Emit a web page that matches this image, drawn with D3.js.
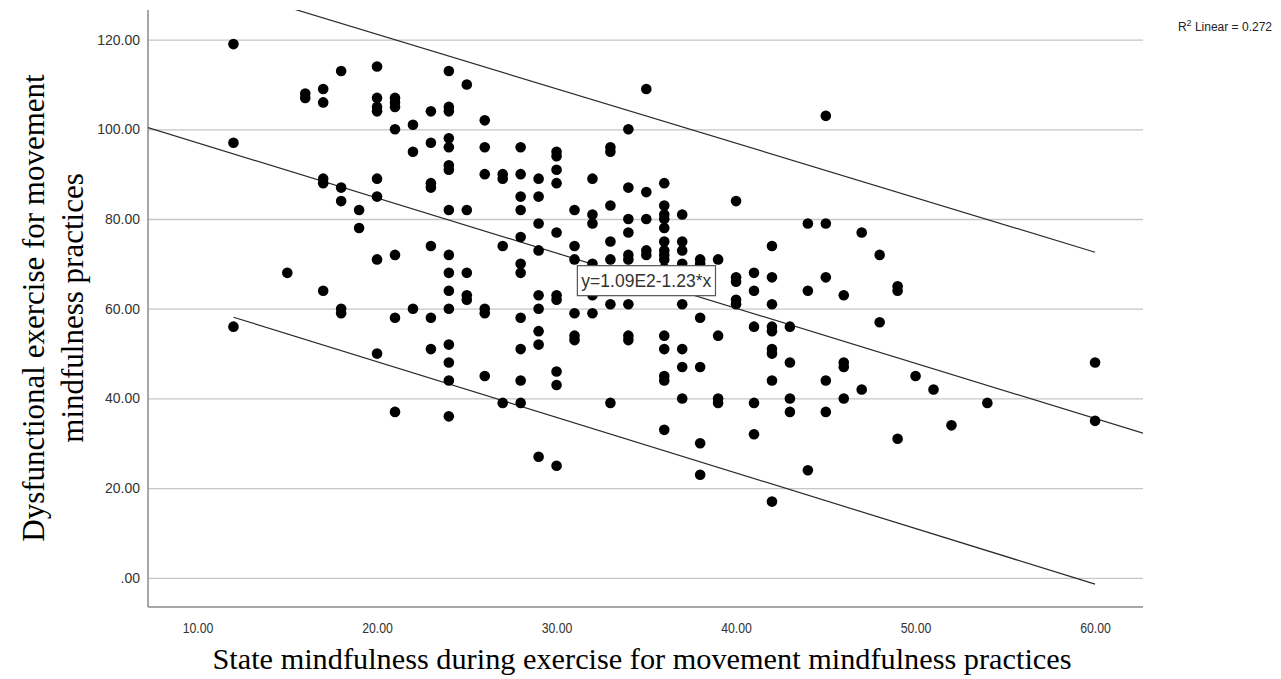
<!DOCTYPE html>
<html>
<head>
<meta charset="utf-8">
<script src="https://cdn.jsdelivr.net/npm/d3@7"></script>
<style>
body { margin: 0; background: #fff; }
</style>
</head>
<body>
<div id="chart"></div>
<script>
// state mindfulness scores (x) and the dysfunctional exercise scores found at each one (y)
var mindfulnessScores = [12, 15, 16, 17, 18, 19, 20, 21, 22, 23, 24, 25, 26, 27, 28, 29, 30,
                         31, 32, 33, 34, 35, 36, 37, 38, 39, 40, 41, 42, 43, 44, 45, 46, 47,
                         48, 49, 50, 51, 52, 54, 60];
var exerciseScores = [
	[119, 97, 56],
	[68],
	[108, 107],
	[109, 106, 89, 88, 64],
	[113, 87, 84, 60, 59],
	[82, 78],
	[114, 107, 105, 104, 89, 85, 71, 50],
	[107, 106, 105, 100, 72, 58, 37],
	[101, 95, 60],
	[104, 97, 88, 87, 74, 58, 51],
	[113, 105, 104, 98, 96, 92, 91, 82, 72, 68, 64, 60, 52, 48, 44, 36],
	[110, 82, 68, 63, 62],
	[102, 96, 90, 60, 59, 45],
	[90, 89, 74, 39],
	[96, 90, 85, 82, 76, 70, 68, 58, 51, 44, 39],
	[89, 85, 79, 73, 63, 60, 55, 52, 27],
	[95, 94, 91, 88, 77, 63, 62, 46, 43, 25],
	[82, 74, 71, 59, 54, 53],
	[89, 81, 79, 70, 63, 59],
	[96, 95, 83, 75, 71, 61, 39],
	[100, 87, 80, 77, 72, 71, 61, 54, 53],
	[109, 86, 80, 73, 72],
	[88, 83, 81, 80, 78, 75, 73, 72, 71, 69, 54, 51, 45, 44, 33],
	[81, 75, 73, 70, 61, 51, 47, 40],
	[71, 70, 58, 47, 30, 23],
	[71, 54, 40, 39],
	[84, 67, 66, 62, 61],
	[68, 64, 56, 39, 32],
	[74, 67, 61, 56, 55, 51, 50, 44, 17],
	[56, 48, 40, 37],
	[79, 64, 24],
	[103, 79, 67, 44, 37],
	[63, 48, 47, 40],
	[77, 42],
	[72, 57],
	[65, 64, 31],
	[45],
	[42],
	[34],
	[39],
	[48, 35]
];
var xTicks = [10, 20, 30, 40, 50, 60];
var yTicks = [0, 20, 40, 60, 80, 100, 120];
// fit line and the individual prediction interval ends
var fitIntercept = 109.27;
var fitSlope = -1.229;
var bandX = [12, 60];
var bandUpper = [130.9, 72.6];
var bandLower = [58.1, -1.4];
var fitLabelAt = 35;
var fitLabel = "y=1.09E2-1.23*x";
var r2Value = "0.272";

var width = 1281, height = 679;
var plotLeft = 148, plotRight = 1143, plotTop = 10, plotBottom = 607;

var points = [];
mindfulnessScores.forEach(function(x, i){
	exerciseScores[i].forEach(function(y){
		points.push({x: x, y: y});
	});
});

var xScale = d3.scaleLinear().domain([7.24, 62.67]).range([plotLeft, plotRight]);
var yScale = d3.scaleLinear().domain([-6.5, 126.6]).range([plotBottom, plotTop]);

var svg = d3.select("#chart")
            .append("svg")
            .attr("width", width)
            .attr("height", height)
            .style("font-family", "'Liberation Sans', Arial, sans-serif");

svg.append("defs").append("clipPath")
   .attr("id", "plotClip")
   .append("rect")
   .attr("x", plotLeft)
   .attr("y", plotTop)
   .attr("width", plotRight - plotLeft)
   .attr("height", plotBottom - plotTop);

// y axis with gridlines
var yAxis = svg.append("g")
               .attr("transform", "translate(" + plotLeft + ",0)")
               .call(d3.axisLeft(yScale)
                       .tickValues(yTicks)
                       .tickSize(-(plotRight - plotLeft))
                       .tickPadding(8)
                       .tickFormat(function(d){ return d === 0 ? ".00" : d.toFixed(2); }));
yAxis.attr("font-size", null).attr("font-family", null);
yAxis.select(".domain").remove();
yAxis.selectAll(".tick line")
     .style("stroke", "#c6c6c6")
     .style("stroke-width", 1.3);
yAxis.selectAll(".tick text")
     .style("font-family", "'Liberation Sans', Arial, sans-serif")
     .style("font-size", "14px")
     .style("fill", "#333");

// x axis labels (narrow look)
var xAxis = svg.append("g")
               .attr("transform", "translate(0," + plotBottom + ")")
               .call(d3.axisBottom(xScale)
                       .tickValues(xTicks)
                       .tickSize(0)
                       .tickPadding(15)
                       .tickFormat(function(d){ return d.toFixed(2); }));
xAxis.attr("font-size", null).attr("font-family", null);
xAxis.select(".domain").remove();
xAxis.selectAll(".tick text")
     .attr("transform", "scale(0.82,1)")
     .style("font-family", "'Liberation Sans', Arial, sans-serif")
     .style("font-size", "15px")
     .style("fill", "#333");

// axis lines
svg.append("line")
   .attr("x1", plotLeft).attr("x2", plotLeft)
   .attr("y1", plotTop).attr("y2", plotBottom)
   .style("stroke", "#8a8a8a")
   .style("stroke-width", 1.5);
svg.append("line")
   .attr("x1", plotLeft).attr("x2", plotRight)
   .attr("y1", plotBottom).attr("y2", plotBottom)
   .style("stroke", "#8a8a8a")
   .style("stroke-width", 1.5);

var plot = svg.append("g").attr("clip-path", "url(#plotClip)");

// fit line across the whole axis
var xDom = xScale.domain();
plot.append("line")
    .attr("x1", xScale(xDom[0]))
    .attr("y1", yScale(fitIntercept + fitSlope * xDom[0]))
    .attr("x2", xScale(xDom[1]))
    .attr("y2", yScale(fitIntercept + fitSlope * xDom[1]))
    .style("stroke", "#2a2a2a")
    .style("stroke-width", 1.2);

[bandUpper, bandLower].forEach(function(band){
	plot.append("line")
	    .attr("x1", xScale(bandX[0]))
	    .attr("y1", yScale(band[0]))
	    .attr("x2", xScale(bandX[1]))
	    .attr("y2", yScale(band[1]))
	    .style("stroke", "#2a2a2a")
	    .style("stroke-width", 1.2);
});

// points
plot.selectAll("circle")
    .data(points)
    .enter()
    .append("circle")
    .attr("cx", function(d){ return xScale(d.x); })
    .attr("cy", function(d){ return yScale(d.y); })
    .attr("r", 5.3)
    .style("fill", "#000");

// fit equation box
var labelX = xScale(fitLabelAt);
var labelY = yScale(fitIntercept + fitSlope * fitLabelAt);
var labelG = svg.append("g");
var labelText = labelG.append("text")
                      .attr("x", labelX)
                      .attr("y", labelY + 6)
                      .style("text-anchor", "middle")
                      .style("font-size", "17.5px")
                      .style("fill", "#333")
                      .text(fitLabel);
var bb = labelText.node().getBBox();
labelG.insert("rect", "text")
      .attr("x", bb.x - 4)
      .attr("y", labelY - 15)
      .attr("width", bb.width + 8)
      .attr("height", 30)
      .style("fill", "#fff")
      .style("stroke", "#555")
      .style("stroke-width", 1.2);

// R squared note
var r2 = svg.append("text")
            .attr("x", 1272)
            .attr("y", 31)
            .style("text-anchor", "end")
            .style("font-size", "12px")
            .style("fill", "#222");
r2.append("tspan").text("R");
r2.append("tspan").attr("dy", -5).style("font-size", "9px").text("2");
r2.append("tspan").attr("dy", 5).text(" Linear = " + r2Value);

// axis titles
svg.append("text")
   .attr("x", 642)
   .attr("y", 669)
   .style("text-anchor", "middle")
   .style("font-family", "'Liberation Serif', 'Times New Roman', serif")
   .style("font-size", "30.3px")
   .style("fill", "#000")
   .text("State mindfulness during exercise for movement mindfulness practices");

var yTitle = svg.append("text")
                .attr("transform", "translate(44,308) rotate(-90)")
                .style("text-anchor", "middle")
                .style("font-family", "'Liberation Serif', 'Times New Roman', serif")
                .style("font-size", "31px")
                .style("fill", "#000");
yTitle.append("tspan").attr("x", 0).attr("y", 0).text("Dysfunctional exercise for movement");
yTitle.append("tspan").attr("x", 0).attr("y", 39).text("mindfulness practices");
</script>
</body>
</html>
